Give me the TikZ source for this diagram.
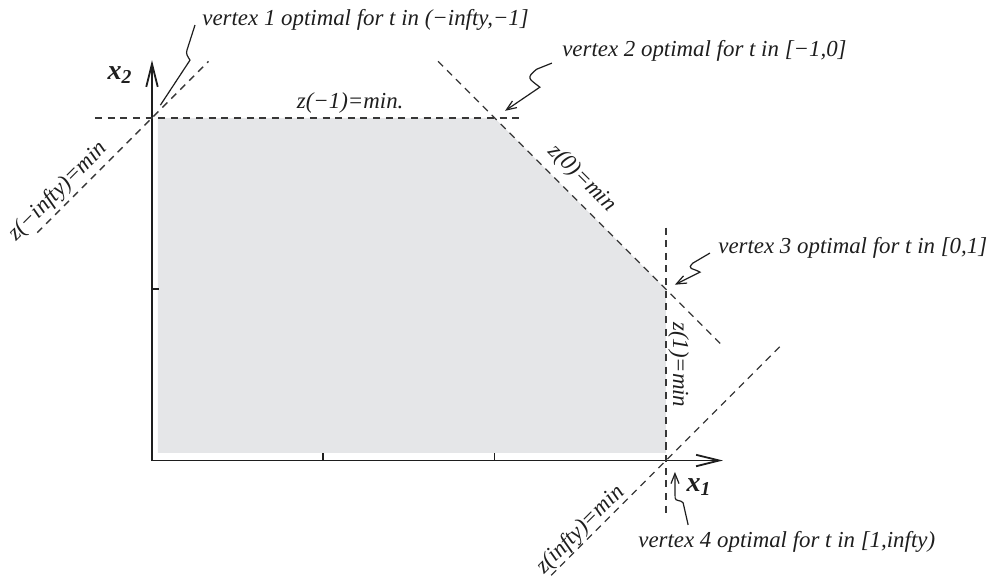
\documentclass[tikz,border=0pt]{standalone}
\usepackage{fontspec}
\setmainfont{Liberation Serif}
\usetikzlibrary{arrows.meta, calc}
\definecolor{regionfill}{RGB}{229,230,232}
\definecolor{dashgray}{RGB}{55,55,55}
\definecolor{inkgray}{RGB}{30,30,30}

\begin{document}
\begin{tikzpicture}[
    x=3cm, y=3cm,
    axis/.style={
        line width=0.9pt, color=inkgray,
        -{Straight Barb[length=11.5pt, width=5.7pt]}
    },
    tick/.style={line width=0.8pt, color=inkgray},
    %% level lines z(t)=min through the vertices
    level/.style={
        line width=0.65pt, color=dashgray,
        dash pattern=on 3.5pt off 2.8pt
    },
    lbl/.style={font=\fontsize{11.4}{13}\selectfont\itshape, color=inkgray},
    axlbl/.style={font=\fontsize{14}{16}\selectfont\bfseries\itshape, color=inkgray},
    callout/.style={line width=0.6pt, color=inkgray},
    calloutarrow/.style={
        callout, -{Straight Barb[length=5pt, width=4pt]}
    }
]
\useasboundingbox (-0.8873,-0.6801) rectangle (4.8978,2.6883);

%% ── Vertices ─────────────────────────────────────────────────────────────────
\coordinate (origin) at (0,0);
\coordinate (vA) at (0,2);
\coordinate (vB) at (2,2);
\coordinate (vC) at (3,1);
\coordinate (vD) at (3,0);

%% ── Feasible region ──────────────────────────────────────────────────────────
\fill[regionfill] (0.035,0.044) -- (0.035,2) -- (vB) -- (vC) -- (3,0.044) -- cycle;

%% ── Axes ─────────────────────────────────────────────────────────────────────
\coordinate (xend) at (3.333,0);
\coordinate (yend) at (0,2.338);
\draw[axis] (origin) -- (xend);
\draw[axis] (origin) -- (yend);
\foreach \t in {1,2}
    \draw[tick] (\t,0) -- (\t,0.042);
\draw[tick] (0,1) -- (0.042,1);

\node[axlbl] (x1lbl) at (3.193,-0.155) {x\textsubscript{1}};
\node[axlbl] (x2lbl) at (-0.187,2.25)  {x\textsubscript{2}};

%% ── Level lines ──────────────────────────────────────────────────────────────
\coordinate (mA) at (-0.67,1.33);  \coordinate (pA) at (0.33,2.33);
\coordinate (mB) at (-0.333,2);    \coordinate (pB) at (2.15,2);
\coordinate (mC) at (1.67,2.33);   \coordinate (pC) at (3.34,0.66);
\coordinate (mD) at (3,1.36);      \coordinate (pD) at (3,-0.33);
\coordinate (mE) at (2.33,-0.67);  \coordinate (pE) at (3.67,0.67);

\draw[level] (mA) -- node[lbl, sloped, above, pos=0.18, inner sep=1.5pt] {z(−infty)=min} (pA);
\draw[level] (mB) -- node[lbl, above, pos=0.6, inner sep=2pt] {z(−1)=min.} (pB);
\draw[level] (mC) -- node[lbl, sloped, above, pos=0.456, inner sep=4pt] {z(0)=min} (pC);
\draw[level] (mD) -- node[lbl, rotate=-90, anchor=south, pos=0.474, inner sep=0.8pt] {z(1)=min} (pD);
\draw[level] (mE) -- node[lbl, sloped, above, pos=0.163, inner sep=0pt] {z(infty)=min} (pE);

%% ── Callouts ─────────────────────────────────────────────────────────────────
\node[lbl, anchor=base west, inner sep=0pt] (v1txt) at (0.292,2.542)  {vertex 1 optimal for t in (−infty,−1]};
\node[lbl, anchor=base west, inner sep=0pt] (v2txt) at (2.393,2.361)  {vertex 2 optimal for t in [−1,0]};
\node[lbl, anchor=base west, inner sep=0pt] (v3txt) at (3.304,1.211)  {vertex 3 optimal for t in [0,1]};
\node[lbl, anchor=base west, inner sep=0pt] (v4txt) at (2.837,-0.505) {vertex 4 optimal for t in [1,infty)};

\draw[callout, shorten >=7.6pt] ([xshift=-3.5pt]v1txt.base west)
    -- ++(-4pt,-12.5pt) to[out=250, in=120] ++(1.5pt,-5pt) -- (vA);
\draw[calloutarrow, shorten >=6.3pt] ([shift={(-5pt,-3.5pt)}]v2txt.base west)
    -- ++(-7.5pt,-3pt) to[out=219, in=142, looseness=2] ++(1.5pt,-9pt) -- (vB);
\draw[calloutarrow, shorten >=5pt] ([xshift=-4pt]v3txt.base west)
    -- ++(-8.5pt,-5pt) to[out=225, in=150, looseness=2] ++(3.5pt,-4.5pt) -- (vC);
\draw[calloutarrow] ([shift={(25pt,11pt)}]v4txt.base west)
    -- ++(-2.5pt,11pt) to[out=120, in=270] ++(-4pt,2.5pt) -- ([shift={(4.5pt,-5.7pt)}]vD);

\end{tikzpicture}
\end{document}
